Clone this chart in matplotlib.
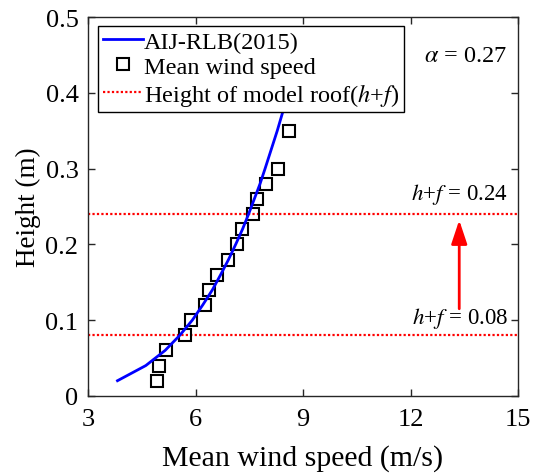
import matplotlib
matplotlib.use("Agg")
import matplotlib.pyplot as plt

plt.rcParams['font.family'] = ['Liberation Serif', 'DejaVu Serif']
plt.rcParams['mathtext.fontset'] = 'stix'

# AIJ-RLB(2015) profile (alpha = 0.27)
aij_height = [0.02, 0.04, 0.06, 0.08, 0.10, 0.12, 0.14, 0.16, 0.18, 0.20,
              0.22, 0.24, 0.26, 0.28, 0.30, 0.35, 0.40, 0.45]
aij_speed = [3.82, 4.61, 5.15, 5.56, 5.91, 6.20, 6.47, 6.70, 6.92, 7.12,
             7.31, 7.48, 7.64, 7.80, 7.94, 8.28, 8.59, 8.86]

# Measured mean wind speed
meas_height = [0.02, 0.04, 0.06, 0.08, 0.10, 0.12, 0.14, 0.16, 0.18, 0.20,
               0.22, 0.24, 0.26, 0.28, 0.30, 0.35]
meas_speed = [4.92, 4.98, 5.17, 5.71, 5.88, 6.26, 6.38, 6.59, 6.90, 7.16,
              7.29, 7.60, 7.71, 7.96, 8.30, 8.61]

roof_heights = [0.08, 0.24]
x_ticks = [3, 6, 9, 12, 15]
y_ticks = [0, 0.1, 0.2, 0.3, 0.4, 0.5]
y_tick_labels = ['0', '0.1', '0.2', '0.3', '0.4', '0.5']

fig = plt.figure(figsize=(5.34, 4.77), dpi=100)
ax = fig.add_axes([0.165, 0.168, 0.805, 0.794])

ax.plot(meas_speed, meas_height, ls='none', marker='s', ms=9, mfc='none',
        mec='black', mew=1.5, label='Mean wind speed', zorder=3)
ax.plot(aij_speed, aij_height, color='#0000ff', lw=2.0, label='AIJ-RLB(2015)', zorder=4)
for i, h in enumerate(roof_heights):
    ax.axhline(h, color='red', ls=(0, (1, 1)), lw=1.6,
               label='Height of model roof($h$+$f$)' if i == 0 else None, zorder=2)

ax.annotate('', xy=(13.36, 0.232), xytext=(13.36, 0.115),
            arrowprops=dict(arrowstyle='-|>,head_length=0.9,head_width=0.3',
                            color='red', lw=2.0, mutation_scale=16,
                            shrinkA=0, shrinkB=0))
ax.text(14.72, 0.25, '$h$+$f$ = 0.24', ha='right', va='bottom', fontsize=16.5)
ax.text(14.72, 0.087, '$h$+$f$ = 0.08', ha='right', va='bottom', fontsize=16.5)
ax.text(14.7, 0.449, r'$\alpha$ = 0.27', ha='right', va='center', fontsize=17.5)

ax.set_xlim(3, 15)
ax.set_ylim(0, 0.5)
ax.set_xticks(x_ticks)
ax.set_yticks(y_ticks)
ax.set_yticklabels(y_tick_labels)
ax.tick_params(direction='in', top=True, right=True, labelsize=19, length=5,
               width=1, colors='#262626', labelcolor='black')
ax.tick_params(axis='x', pad=9)
ax.tick_params(axis='y', pad=7)
for s in ax.spines.values():
    s.set_linewidth(1.0)
    s.set_color('#262626')

ax.set_xlabel('Mean wind speed (m/s)', fontsize=21.5, labelpad=10)
ax.set_ylabel('Height (m)', fontsize=19.5, labelpad=3)

handles, labels = ax.get_legend_handles_labels()
order = [1, 0, 2]
leg = ax.legend([handles[i] for i in order], [labels[i] for i in order],
                loc='upper left', bbox_to_anchor=(0.023, 0.977), fontsize=17.5,
                frameon=True, fancybox=False, edgecolor='black', framealpha=1,
                handlelength=1.65, handletextpad=0.05, borderpad=0.2,
                labelspacing=0.12, borderaxespad=0)
leg.get_frame().set_linewidth(1.0)

fig.savefig('out.png', dpi=100)
